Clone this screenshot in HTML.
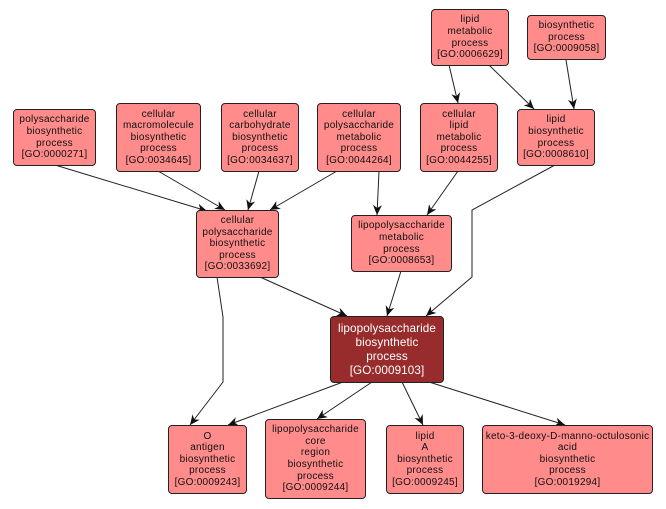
<!DOCTYPE html>
<html><head><meta charset="utf-8"><style>
html,body{margin:0;padding:0;background:#fff;}
body{width:666px;height:509px;position:relative;overflow:hidden;font-family:"Liberation Sans",Arial,sans-serif;}
.n{position:absolute;box-sizing:border-box;border:1px solid #222;border-radius:4px;background:#ff8b8b;display:flex;flex-direction:column;justify-content:center;align-items:center;text-align:center;font-size:10px;line-height:11.6px;letter-spacing:0.25px;color:#111;white-space:nowrap;}
.m{background:#982b2b;color:#fff;font-size:11.7px;line-height:14px;letter-spacing:0.1px;}
svg{position:absolute;left:0;top:0;}
</style></head><body>
<svg width="666" height="509" viewBox="0 0 666 509">
<defs>
<marker id="a" markerUnits="userSpaceOnUse" markerWidth="11" markerHeight="9" refX="10" refY="4.5" orient="auto">
<path d="M0,0 L10,4.5 L0,9 L3,4.5 z" fill="#111"/>
</marker>
</defs>
<g stroke="#222" stroke-width="1" fill="none" marker-end="url(#a)">
<line x1="55" y1="165" x2="207" y2="211"/>
<line x1="158" y1="171" x2="225" y2="210"/>
<line x1="259" y1="171" x2="248" y2="210"/>
<line x1="337" y1="171" x2="270" y2="210"/>
<line x1="379" y1="171" x2="377" y2="215"/>
<line x1="458" y1="171" x2="427" y2="215"/>
<polyline points="555,165 472,210 472,277 426,316"/>
<line x1="260" y1="277" x2="347" y2="316"/>
<line x1="401" y1="271" x2="387" y2="316"/>
<polyline points="217,277 223,317 223,382 190,425"/>
<line x1="343" y1="382" x2="228" y2="425"/>
<line x1="372" y1="382" x2="317" y2="419"/>
<line x1="402" y1="382" x2="423" y2="425"/>
<line x1="429" y1="382" x2="565" y2="425"/>
<line x1="449" y1="65" x2="458" y2="103"/>
<line x1="489" y1="65" x2="534" y2="109"/>
<line x1="566" y1="60" x2="574" y2="109"/>
</g>
</svg>
<div class="n" style="left:13px;top:109px;width:83px;height:57px;">polysaccharide<br>biosynthetic<br>process<br>[GO:0000271]</div>
<div class="n" style="left:116px;top:103px;width:85px;height:69px;">cellular<br>macromolecule<br>biosynthetic<br>process<br>[GO:0034645]</div>
<div class="n" style="left:221px;top:103px;width:78px;height:69px;">cellular<br>carbohydrate<br>biosynthetic<br>process<br>[GO:0034637]</div>
<div class="n" style="left:317px;top:103px;width:84px;height:69px;">cellular<br>polysaccharide<br>metabolic<br>process<br>[GO:0044264]</div>
<div class="n" style="left:431px;top:9px;width:78px;height:57px;">lipid<br>metabolic<br>process<br>[GO:0006629]</div>
<div class="n" style="left:527px;top:15px;width:79px;height:45px;">biosynthetic<br>process<br>[GO:0009058]</div>
<div class="n" style="left:420px;top:103px;width:78px;height:69px;">cellular<br>lipid<br>metabolic<br>process<br>[GO:0044255]</div>
<div class="n" style="left:517px;top:109px;width:78px;height:57px;">lipid<br>biosynthetic<br>process<br>[GO:0008610]</div>
<div class="n" style="left:196px;top:210px;width:83px;height:68px;">cellular<br>polysaccharide<br>biosynthetic<br>process<br>[GO:0033692]</div>
<div class="n" style="left:351px;top:215px;width:101px;height:57px;">lipopolysaccharide<br>metabolic<br>process<br>[GO:0008653]</div>
<div class="n m" style="left:330px;top:316px;width:114px;height:67px;">lipopolysaccharide<br>biosynthetic<br>process<br>[GO:0009103]</div>
<div class="n" style="left:168px;top:425px;width:79px;height:69px;">O<br>antigen<br>biosynthetic<br>process<br>[GO:0009243]</div>
<div class="n" style="left:265px;top:419px;width:101px;height:80px;">lipopolysaccharide<br>core<br>region<br>biosynthetic<br>process<br>[GO:0009244]</div>
<div class="n" style="left:386px;top:425px;width:78px;height:69px;">lipid<br>A<br>biosynthetic<br>process<br>[GO:0009245]</div>
<div class="n" style="left:482px;top:425px;width:171px;height:69px;">keto-3-deoxy-D-manno-octulosonic<br>acid<br>biosynthetic<br>process<br>[GO:0019294]</div>
</body></html>
